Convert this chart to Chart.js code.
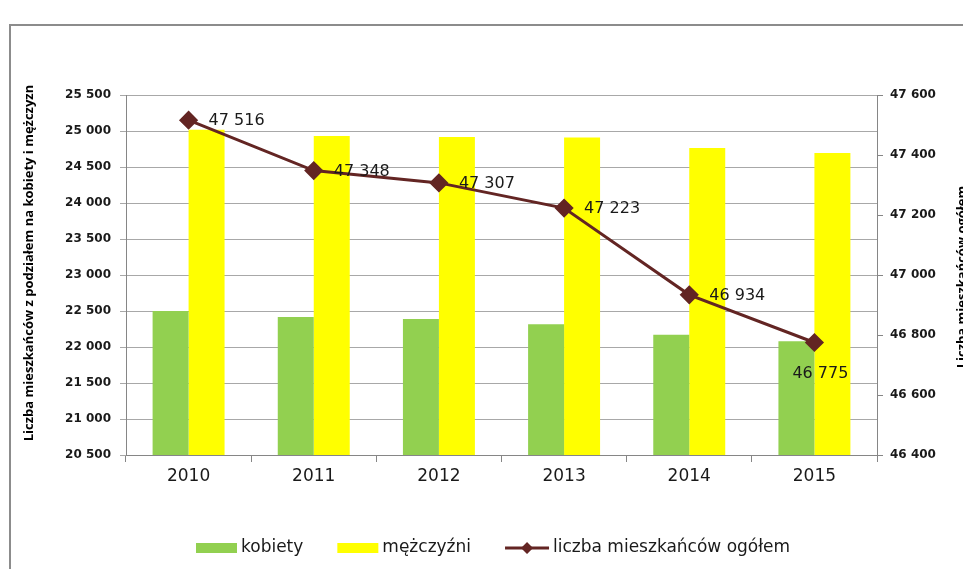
<!DOCTYPE html>
<html>
<head>
<meta charset="utf-8">
<style>
  html, body { margin: 0; padding: 0; background: #fff; overflow: hidden; }
  #wrap { position: relative; width: 963px; height: 569px; }
</style>
<script src="https://cdn.jsdelivr.net/npm/chart.js@4/dist/chart.umd.min.js"></script>
</head>
<body>
<div id="wrap"><canvas id="chart" width="963" height="569"></canvas></div>
<script>
// data
const years = ['2010', '2011', '2012', '2013', '2014', '2015'];
const kobiety = [22500, 22417, 22390, 22315, 22170, 22080];
const mezczyzni = [25016, 24931, 24917, 24908, 24764, 24695];
const ogolem = [47516, 47348, 47307, 47223, 46934, 46775];

const leftTitle = 'Liczba mieszkańców z podziałem na kobiety i mężczyzn';
const rightTitle = 'Liczba mieszkańców ogółem';

const AXIS = '#868686';
const GRID = '#a8a8a8';
const TEXT = '#1a1a1a';

// "25 500" style numbers
function fmt(v) {
    return String(v).replace(/\B(?=(\d{3})+(?!\d))/g, ' ');
}

// outer frame of the chart object (runs off the right edge like the screenshot)
const framePlugin = {
    id: 'frame',
    beforeDraw(chart) {
        const ctx = chart.ctx;
        ctx.save();
        ctx.strokeStyle = '#8c8c8c';
        ctx.lineWidth = 2;
        ctx.strokeRect(10, 25, 1000, 600);
        ctx.restore();
    }
};

// both axis titles read bottom to top
const titlesPlugin = {
    id: 'titles',
    afterDraw(chart) {
        const ctx = chart.ctx;
        const a = chart.chartArea;
        const mid = (a.top + a.bottom) / 2;
        ctx.save();
        ctx.fillStyle = '#000';
        ctx.font = 'bold 13px "Open Sans"';
        ctx.textAlign = 'center';
        ctx.textBaseline = 'middle';

        ctx.save();
        ctx.translate(29, mid - 12);
        ctx.rotate(-Math.PI / 2);
        ctx.fillText(leftTitle, 0, 0);
        ctx.restore();

        ctx.save();
        ctx.translate(962, mid + 2);
        ctx.rotate(-Math.PI / 2);
        ctx.fillText(rightTitle, 0, 0);
        ctx.restore();
        ctx.restore();
    }
};

// value labels next to the line points
const labelsPlugin = {
    id: 'lineLabels',
    afterDatasetsDraw(chart) {
        const ctx = chart.ctx;
        const meta = chart.getDatasetMeta(2);
        const values = chart.data.datasets[2].data;
        ctx.save();
        ctx.font = '16px "DejaVu Sans"';
        ctx.fillStyle = TEXT;
        ctx.textBaseline = 'middle';
        meta.data.forEach(function(pt, i) {
            const txt = fmt(values[i]);
            if (i === values.length - 1) {
                ctx.textAlign = 'center';
                ctx.fillText(txt, pt.x + 6, pt.y + 31);
            } else {
                ctx.textAlign = 'left';
                ctx.fillText(txt, pt.x + 20, pt.y + 1);
            }
        });
        ctx.restore();
    }
};

// legend at the bottom: boxes for bars, line with diamond for the series
const legendPlugin = {
    id: 'bottomLegend',
    afterDraw(chart) {
        const ctx = chart.ctx;
        const ds = chart.data.datasets;
        const y = 548;
        let x = 196;
        ctx.save();
        ctx.font = '17px "DejaVu Sans"';
        ctx.textBaseline = 'middle';
        ctx.textAlign = 'left';
        ds.forEach(function(d, i) {
            if (d.type === 'line') {
                ctx.strokeStyle = d.borderColor;
                ctx.lineWidth = 3;
                ctx.beginPath();
                ctx.moveTo(x, y);
                ctx.lineTo(x + 44, y);
                ctx.stroke();
                ctx.fillStyle = d.borderColor;
                ctx.beginPath();
                ctx.moveTo(x + 22, y - 6);
                ctx.lineTo(x + 28, y);
                ctx.lineTo(x + 22, y + 6);
                ctx.lineTo(x + 16, y);
                ctx.closePath();
                ctx.fill();
                x += 48;
            } else {
                ctx.fillStyle = d.backgroundColor;
                ctx.fillRect(x, y - 5, 41, 10);
                x += 45;
            }
            ctx.fillStyle = TEXT;
            ctx.fillText(d.label, x, y);
            x += ctx.measureText(d.label).width + 34;
        });
        ctx.restore();
    }
};

const ctx = document.getElementById('chart').getContext('2d');
new Chart(ctx, {
    data: {
        labels: years,
        datasets: [
            {
                type: 'bar',
                label: 'kobiety',
                data: kobiety,
                backgroundColor: '#92d050',
                yAxisID: 'y',
                order: 2
            },
            {
                type: 'bar',
                label: 'mężczyźni',
                data: mezczyzni,
                backgroundColor: '#ffff00',
                yAxisID: 'y',
                order: 2
            },
            {
                type: 'line',
                label: 'liczba mieszkańców ogółem',
                data: ogolem,
                borderColor: '#632523',
                backgroundColor: '#632523',
                borderWidth: 3,
                pointStyle: 'rectRot',
                pointRadius: 7.5,
                pointBackgroundColor: '#632523',
                pointBorderColor: '#632523',
                tension: 0,
                yAxisID: 'y1',
                order: 1
            }
        ]
    },
    options: {
        responsive: false,
        animation: false,
        layout: { padding: { top: 95, bottom: 74, left: 0, right: 0 } },
        datasets: {
            bar: { barPercentage: 1, categoryPercentage: 0.575 }
        },
        plugins: {
            legend: { display: false },
            tooltip: { enabled: false }
        },
        scales: {
            x: {
                offset: true,
                grid: { offset: true, drawOnChartArea: false, tickLength: 7, color: AXIS },
                border: { color: AXIS },
                ticks: { font: { family: 'DejaVu Sans', size: 17 }, color: TEXT, padding: 4 },
                afterFit: function(s) { s.height = 40; }
            },
            y: {
                position: 'left',
                min: 20500,
                max: 25500,
                ticks: {
                    stepSize: 500,
                    font: { family: 'DejaVu Sans', size: 12, weight: 'bold' },
                    color: TEXT,
                    padding: 9,
                    callback: function(v) { return fmt(v); }
                },
                grid: { color: GRID, tickLength: 6 },
                border: { color: AXIS },
                afterFit: function(s) { s.width = 126; }
            },
            y1: {
                position: 'right',
                min: 46400,
                max: 47600,
                ticks: {
                    stepSize: 200,
                    font: { family: 'DejaVu Sans', size: 12, weight: 'bold' },
                    color: TEXT,
                    padding: 7,
                    callback: function(v) { return fmt(v); }
                },
                grid: { drawOnChartArea: false, color: AXIS, tickLength: 6 },
                border: { color: AXIS },
                afterFit: function(s) { s.width = 86; }
            }
        }
    },
    plugins: [framePlugin, titlesPlugin, labelsPlugin, legendPlugin]
});
</script>
</body>
</html>
